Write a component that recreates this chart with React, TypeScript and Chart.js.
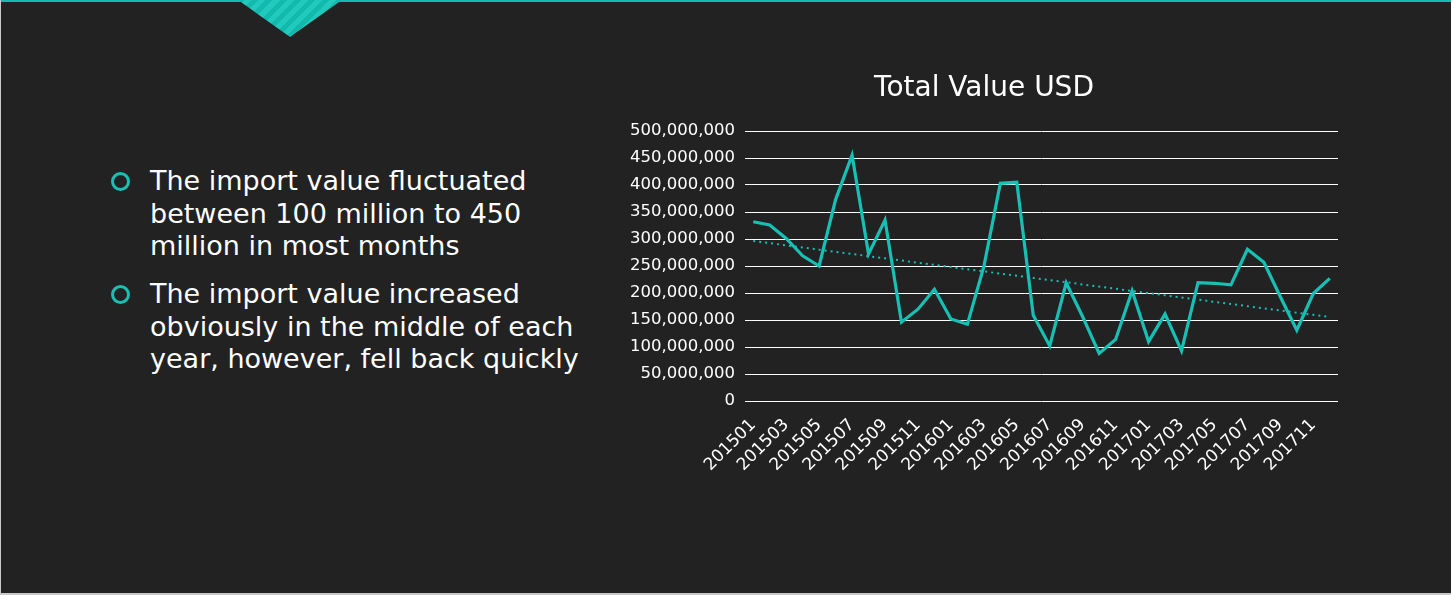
import React, { useEffect, useRef } from "react";
import { Chart, registerables } from "chart.js";

Chart.register(...registerables);

const months: string[] = [
  "201501", "201502", "201503", "201504", "201505", "201506", "201507", "201508", "201509", "201510", "201511", "201512",
  "201601", "201602", "201603", "201604", "201605", "201606", "201607", "201608", "201609", "201610", "201611", "201612",
  "201701", "201702", "201703", "201704", "201705", "201706", "201707", "201708", "201709", "201710", "201711", "201712",
];

const totalValueUsd: number[] = [
  332e6, 326e6, 301e6, 269e6, 250e6, 373e6, 455e6, 272e6, 335e6, 146e6, 170e6, 207e6,
  152e6, 142e6, 249e6, 403e6, 405e6, 159e6, 102e6, 219e6, 156e6, 88e6, 114e6, 204e6,
  110e6, 161e6, 93e6, 219e6, 218e6, 215e6, 281e6, 257e6, 193e6, 131e6, 199e6, 227e6,
];

const yTicks: number[] = [0, 50e6, 100e6, 150e6, 200e6, 250e6, 300e6, 350e6, 400e6, 450e6, 500e6];

const bullets: string[][] = [
  ["The import value fluctuated", "between 100 million to 450", "million in most months"],
  ["The import value increased", "obviously in the middle of each", "year, however, fell back quickly"],
];

const TEAL = "#18BFB4";
const FONT = "'DejaVu Sans', 'Noto Sans', sans-serif";

// Linear trendline (least squares) derived from the series, like the spreadsheet trendline
function linearTrend(vals: number[]): number[] {
  const n = vals.length;
  let sx = 0, sy = 0, sxy = 0, sxx = 0;
  vals.forEach((v, i) => { sx += i; sy += v; sxy += i * v; sxx += i * i; });
  const b = (n * sxy - sx * sy) / (n * sxx - sx * sx);
  const a = (sy - b * sx) / n;
  return vals.map((_, i) => a + b * i);
}

function TotalValueChart() {
  const ref = useRef<HTMLCanvasElement | null>(null);
  useEffect(() => {
    if (!ref.current) return;
    const chart = new Chart(ref.current, {
      type: "line",
      data: {
        labels: months,
        datasets: [
          {
            label: "Total Value USD",
            data: totalValueUsd,
            borderColor: TEAL,
            backgroundColor: TEAL,
            borderWidth: 3.2,
            pointRadius: 0,
            tension: 0,
            order: 1,
          },
          {
            label: "Trend",
            data: linearTrend(totalValueUsd),
            borderColor: TEAL,
            borderWidth: 2,
            borderDash: [2, 4],
            pointRadius: 0,
            tension: 0,
            order: 2,
          },
        ],
      },
      options: {
        animation: false,
        responsive: false,
        maintainAspectRatio: false,
        layout: { padding: { left: 30, right: 22, top: 0, bottom: 0 } },
        plugins: {
          legend: { display: false },
          tooltip: { enabled: false },
          title: {
            display: true,
            text: "Total Value USD",
            color: "#ffffff",
            font: { family: FONT, size: 28, weight: "normal" },
            padding: { top: 12, bottom: 25.4 },
          },
        },
        scales: {
          x: {
            offset: true,
            grid: { display: false },
            border: { display: false },
            ticks: {
              autoSkip: false,
              minRotation: 45,
              maxRotation: 45,
              color: "#ffffff",
              font: { family: FONT, size: 17 },
              padding: 6,
              callback: (_v: any, i: number) => (i % 2 === 0 ? months[i] : ""),
            },
            afterFit: (s: any) => { s.height = 119; },
          },
          y: {
            min: yTicks[0],
            max: yTicks[yTicks.length - 1],
            afterBuildTicks: (s: any) => { s.ticks = yTicks.map((v) => ({ value: v })); },
            grid: { color: "#ffffff", lineWidth: 1, drawTicks: false },
            border: { display: false },
            ticks: {
              color: "#ffffff",
              font: { family: FONT, size: 16.5 },
              padding: 10,
              callback: (v: any) => Number(v).toLocaleString("en-US"),
            },
            afterFit: (s: any) => { s.width = 115; },
          },
        },
      },
    });
    return () => chart.destroy();
  }, []);
  return (
    <canvas
      ref={ref}
      width={760}
      height={460}
      style={{ position: "absolute", left: 599, top: 60, width: 760, height: 460 }}
    />
  );
}

export default function App() {
  return (
    <div
      style={{
        position: "fixed",
        left: 0,
        top: 0,
        width: 1451,
        height: 595,
        background: "#222222",
        overflow: "hidden",
        boxSizing: "border-box",
        borderLeft: "1px solid #c8c8c8",
        borderBottom: "2px solid #c8c8c8",
        fontFamily: FONT,
      }}
    >
      <div style={{ position: "absolute", left: 0, top: 0, width: 1451, height: 2, background: "#1AB9AD" }} />
      <div
        style={{
          position: "absolute",
          left: 237,
          top: 0,
          width: 104,
          height: 37,
          background: "repeating-linear-gradient(-45deg, #22c9bd 0px, #22c9bd 5px, #12b9ad 5px, #12b9ad 10px)",
          clipPath: "polygon(0% 0%, 100% 0%, 55% 90%, 50% 100%, 45% 90%)",
        }}
      />
      {bullets.map((lines, bi) => (
        <div key={bi}>
          <div
            style={{
              position: "absolute",
              left: 110,
              top: 172 + bi * 113,
              width: 13,
              height: 13,
              border: `3px solid ${TEAL}`,
              borderRadius: "50%",
            }}
          />
          <div
            style={{
              position: "absolute",
              left: 149,
              top: 165 + bi * 113,
              color: "#ffffff",
              fontSize: 27,
              lineHeight: "32.5px",
              whiteSpace: "nowrap",
            }}
          >
            {lines.map((l, i) => (
              <div key={i}>{l}</div>
            ))}
          </div>
        </div>
      ))}
      <TotalValueChart />
    </div>
  );
}
